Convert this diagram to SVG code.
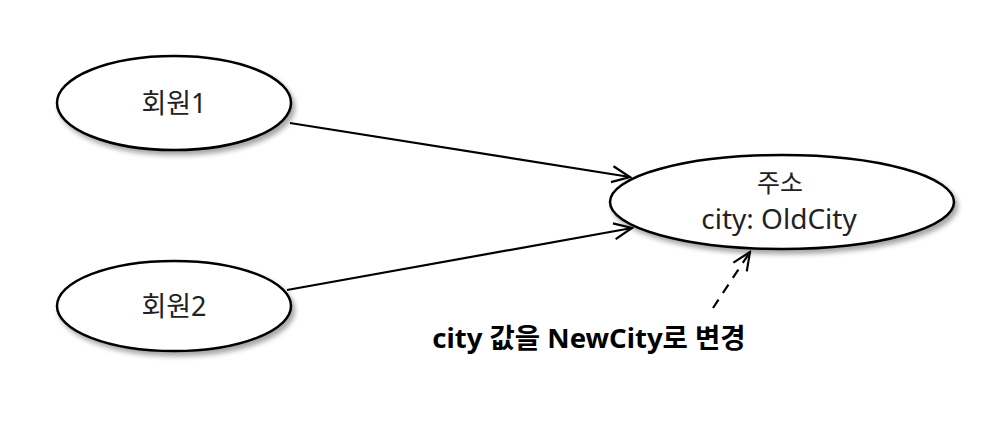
<svg xmlns="http://www.w3.org/2000/svg" width="1008" height="436" viewBox="0 0 1008 436">
<defs>
<style>
.node ellipse{fill:#fff;stroke:#000;stroke-width:2.5;filter:url(#sh)}
.lbl{font-family:"Noto Sans","Noto Sans CJK KR",sans-serif;font-size:27px;fill:#222;text-anchor:middle}
.edge{stroke:#000;stroke-width:2.2;fill:none}
.bold{font-family:"Noto Sans","Noto Sans CJK KR",sans-serif;font-size:27.5px;font-weight:bold;fill:#000;text-anchor:middle}
</style>
<filter id="sh" x="-10%" y="-20%" width="130%" height="150%">
<feDropShadow dx="3" dy="4" stdDeviation="2.5" flood-color="#000" flood-opacity="0.35"/>
</filter>
<marker id="arr" viewBox="0 0 22 22" refX="20" refY="11" markerWidth="22" markerHeight="22" markerUnits="userSpaceOnUse" orient="auto">
<path d="M2,3 L20,11 L2,19" fill="none" stroke="#000" stroke-width="2.2"/>
</marker>
</defs>
<rect width="1008" height="436" fill="#fff"/>
<g id="member1" class="node">
<ellipse cx="174" cy="103" rx="117" ry="47"/>
<text class="lbl" x="174" y="113">회원1</text>
</g>
<g id="member2" class="node">
<ellipse cx="174" cy="306" rx="117" ry="45"/>
<text class="lbl" x="174" y="316">회원2</text>
</g>
<g id="address" class="node">
<ellipse cx="782" cy="202" rx="172" ry="47"/>
<text class="lbl" x="780" y="192" style="font-size:25px">주소</text>
<text class="lbl" x="779" y="229" style="font-size:28px">city: OldCity</text>
</g>
<g id="connectors">
<line class="edge" x1="290" y1="123" x2="630" y2="177" marker-end="url(#arr)"/>
<line class="edge" x1="287" y1="290" x2="632" y2="228" marker-end="url(#arr)"/>
<line class="edge" x1="713" y1="308" x2="750" y2="252" stroke-dasharray="10,8" marker-end="url(#arr)"/>
</g>
<text class="bold" x="589" y="348">city 값을 NewCity로 변경</text>
</svg>
